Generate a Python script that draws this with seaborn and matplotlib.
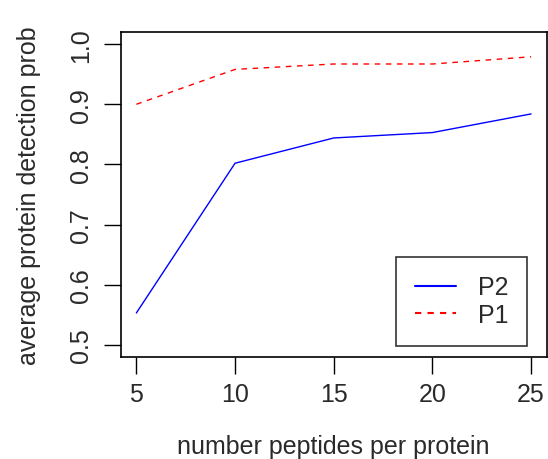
import matplotlib
matplotlib.use("Agg")
import matplotlib.pyplot as plt
from matplotlib.lines import Line2D
import seaborn as sns
import pandas as pd

# average protein detection probability by peptides per protein
peptides = [5, 10, 15, 20, 25]
p2_prob = [0.553, 0.802, 0.844, 0.853, 0.884]
p1_prob = [0.900, 0.958, 0.967, 0.967, 0.979]
series_names = ["P2", "P1"]
x_ticks = [5, 10, 15, 20, 25]
y_ticks = [0.5, 0.6, 0.7, 0.8, 0.9, 1.0]

df = pd.DataFrame({
    "peptides": peptides * 2,
    "prob": p2_prob + p1_prob,
    "method": [series_names[0]] * len(peptides) + [series_names[1]] * len(peptides),
})

sns.set_style("white")
plt.rcParams["font.family"] = ["Liberation Sans", "DejaVu Sans"]
plt.rcParams["axes.linewidth"] = 1.0

text_color = "#2a2a2a"
fs = 18

fig = plt.figure(figsize=(5.48, 4.60), dpi=100)
ax = fig.add_axes([0.220, 0.222, 0.778, 0.706])

sns.lineplot(data=df, x="peptides", y="prob", hue="method", style="method",
             palette={"P2": "#0000FF", "P1": "#FF0000"},
             dashes={"P2": "", "P1": (4, 4)},
             linewidth=1.0, ax=ax, legend=False)

ax.set_xlim(4.2, 25.8)
ax.set_ylim(0.48, 1.02)
ax.set_xticks(x_ticks)
ax.set_yticks(y_ticks)
ax.set_xticklabels([str(v) for v in x_ticks], fontsize=fs)
ax.set_yticklabels([f"{v:.1f}" for v in y_ticks], fontsize=fs, rotation=90,
                   va="center")
ax.tick_params(axis="both", direction="out", length=12, width=1.0,
               colors="black", labelcolor=text_color, bottom=True, left=True)
ax.tick_params(axis="x", pad=6)
ax.tick_params(axis="y", pad=8)
for s in ax.spines.values():
    s.set_visible(True)
    s.set_color("black")
    s.set_linewidth(1.2)

ax.set_xlabel("number peptides per protein", fontsize=fs, color=text_color, labelpad=20)
ax.set_ylabel("average protein detection prob", fontsize=fs, color=text_color, labelpad=20)

handles = [Line2D([], [], color="#0000FF", lw=1.5),
           Line2D([], [], color="#FF0000", lw=1.5, dashes=(3, 3))]
leg = ax.legend(handles, series_names, loc="lower right",
                bbox_to_anchor=(0.953, 0.034), fontsize=fs, frameon=True,
                fancybox=False, handlelength=1.65, handletextpad=0.85,
                borderpad=0.75, labelspacing=0.15, borderaxespad=0)
leg.get_frame().set_edgecolor("black")
leg.get_frame().set_linewidth(1.2)
for t in leg.get_texts():
    t.set_color(text_color)

fig.savefig("out.png", dpi=100)
